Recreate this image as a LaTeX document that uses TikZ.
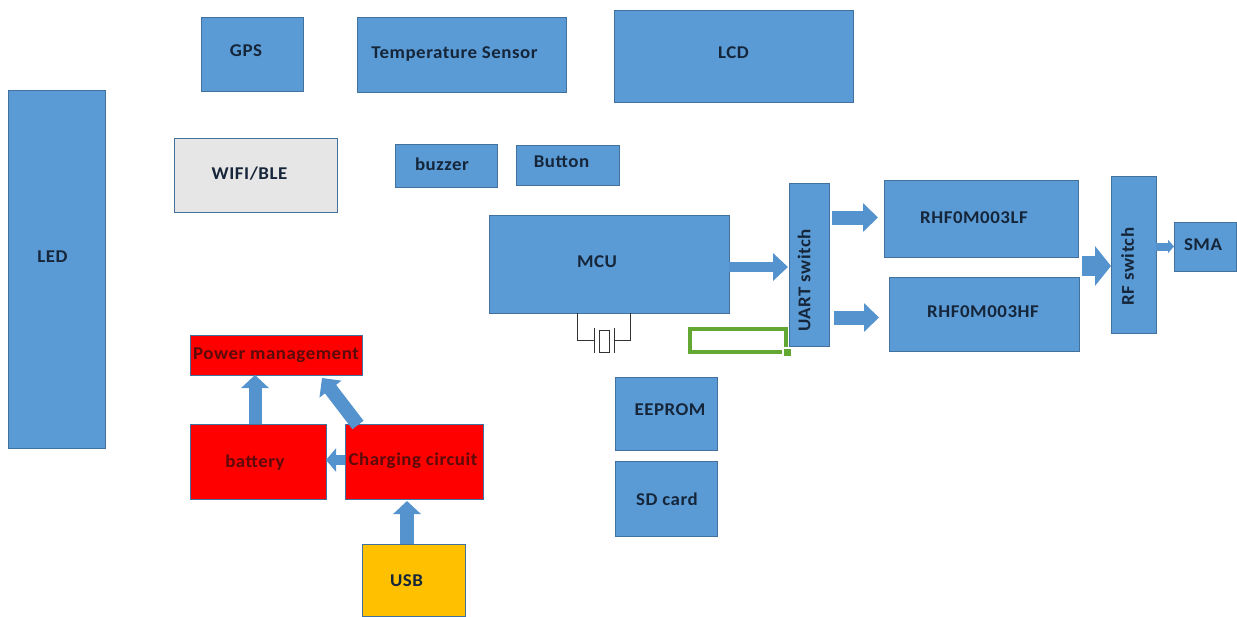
\documentclass[tikz,border=0pt]{standalone}
\usepackage{fontspec}
\setmainfont[LetterSpace=3,FakeStretch=1.05]{Carlito}
\usetikzlibrary{arrows.meta,calc}
\definecolor{boxblue}{HTML}{5B9BD5}
\definecolor{edgeblue}{HTML}{41719C}
\definecolor{arrowblue}{HTML}{5593CE}
\definecolor{inkblue}{HTML}{16263A}
\definecolor{inkred}{HTML}{5C0A0A}
\definecolor{boxred}{HTML}{FF0000}
\definecolor{boxgold}{HTML}{FFC000}
\definecolor{boxgrey}{HTML}{E7E6E6}
\definecolor{wiregreen}{HTML}{62A832}
\tikzset{
  box/.style={draw=edgeblue,line width=0.8pt,inner sep=0pt,outer sep=0pt},
  lab/.style={font=\bfseries\fontsize{18}{20}\selectfont,text=inkblue,inner sep=0pt},
  labred/.style={text=inkred},
  block/.style args={#1/#2/#3}{draw=arrowblue,line width=#1pt,
    -{Triangle[length=#3pt,width=#2pt,fill=arrowblue]}},
  wire/.style={draw=black!80,line width=1pt},
  greenwire/.style={draw=wiregreen,line width=3.6pt}
}
% \nb[label options]{name}{x1}{y1}{x2}{y2}{fill}{text}
\newcommand\nb[8][]{%
  \node[box,fill=#7,minimum width={(#5-#3)*1pt},minimum height={(#6-#4)*1pt},
    label={[lab,#1]center:#8}] (#2) at ({(#3+#5)/2},{(#4+#6)/2}) {};}
\begin{document}
\begin{tikzpicture}[x=1pt,y=-1pt]
\useasboundingbox (0,0) rectangle (1237,616);
\nb[xshift=-6pt,yshift=3pt]{gps}{201}{17}{303}{91}{boxblue}{GPS}
\nb[xshift=-7pt,yshift=0pt]{temp}{357}{17}{566}{92}{boxblue}{Temperature Sensor}
\nb[yshift=3pt]{lcd}{614}{10}{853}{102}{boxblue}{LCD}
\nb[xshift=-4pt,yshift=12pt]{led}{8}{90}{105}{448}{boxblue}{LED}
\nb[xshift=-6pt,yshift=1pt]{wifi}{174}{138}{337}{212}{boxgrey}{WIFI/BLE}
\nb[xshift=-4pt,yshift=1pt]{buzzer}{395}{144}{497}{187}{boxblue}{buzzer}
\nb[xshift=-6pt,yshift=3pt]{button}{516}{145}{619}{185}{boxblue}{Button}
\nb[xshift=-12pt,yshift=2pt]{mcu}{489}{215}{729}{313}{boxblue}{MCU}
\nb[rotate=90,xshift=-16pt,yshift=5pt]{uart}{789}{183}{829}{346}{boxblue}{UART switch}
\nb[xshift=-7pt,yshift=1pt]{lf}{884}{180}{1078}{257}{boxblue}{RHF0M003LF}
\nb[xshift=-1pt,yshift=2pt]{hf}{889}{277}{1079}{351}{boxblue}{RHF0M003HF}
\nb[rotate=90,xshift=-12pt,yshift=6pt]{rf}{1111}{176}{1156}{333}{boxblue}{RF switch}
\nb[xshift=-2pt,yshift=2pt]{sma}{1174}{222}{1236}{271}{boxblue}{SMA}
\nb[labred,yshift=0pt]{power}{190}{335}{362}{375}{boxred}{Power management}
\nb[labred,xshift=-3pt,yshift=-1pt]{battery}{190}{424}{326}{499}{boxred}{battery}
\nb[labred,xshift=-1pt,yshift=1pt]{charge}{345}{424}{483}{499}{boxred}{Charging circuit}
\nb[xshift=-7pt,yshift=-1pt]{usb}{362}{544}{465}{616}{boxgold}{USB}
\nb[xshift=4pt,yshift=4pt]{eeprom}{615}{377}{717}{450}{boxblue}{EEPROM}
\nb[xshift=1pt,yshift=-1pt]{sd}{615}{461}{717}{536}{boxblue}{SD card}
% block arrows
\draw[block=10/27/15] ([shift={(0,3)}]mcu.east) -- ([shift={(-1,2.5)}]uart.west);
\draw[block=14/28/15] ([shift={(3,-47)}]uart.east) -- ([shift={(-6,-1)}]lf.west);
\draw[block=14/28/15] ([shift={(5,53)}]uart.east) -- ([shift={(-10,3.5)}]hf.west);
\draw[block=20/39/16] ([shift={(4,9)}]lf.south east) -- ([shift={(0,11.5)}]rf.west);
\draw[block=8/13/6] ([shift={(0,-8)}]rf.east) -- (sma.west);
\draw[block=13/27/13] ([shift={(-3,0)}]battery.north) -- ([shift={(-3,0)}]battery.north |- power.south);
\draw[block=14/27/14] ([shift={(-125,1)}]charge.north east) -- ([shift={(-40,3)}]power.south east);
\draw[block=10/23/10] (charge.west |- 0,460) -- (battery.east |- 0,460);
\draw[block=14/27/13] ([shift={(-6.5,0)}]usb.north) -- ([shift={(-7,2)}]charge.south);
% crystal
\coordinate (xl) at ([shift={(88,0)}]mcu.south west);
\coordinate (xr) at ([shift={(141,0)}]mcu.south west);
\coordinate (pl) at ([shift={(0,27)}]xl);
\coordinate (pr) at ([shift={(0,27)}]xr);
\draw[wire] (xl) -- (pl) -- ++(17,0);
\draw[wire] (xr) -- (pr) -- ++(-16,0);
\draw[wire] (594.5,328) -- (594.5,353);
\draw[wire] (614,328) -- (614,353);
\draw[wire] (599,330) rectangle (609,352);
% green wire
\draw[greenwire] (782,352) -- (690,352) -- (690,329) -- (786,329) -- (786,347);
\fill[wiregreen] (784,349) rectangle (791,356);
\end{tikzpicture}
\end{document}
